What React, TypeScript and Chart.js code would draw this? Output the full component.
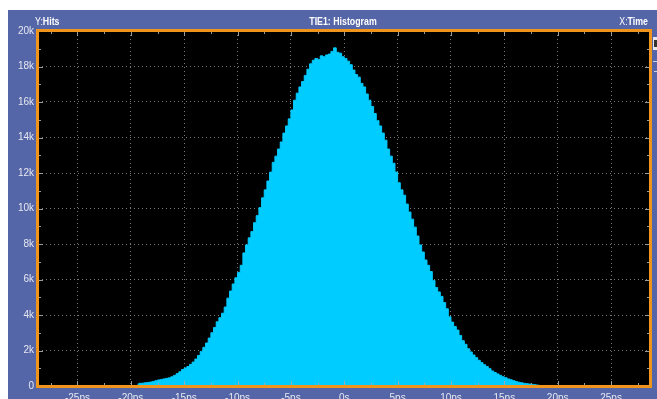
import React, { useEffect, useRef } from "react";
import { Chart, registerables } from "chart.js";

Chart.register(...registerables);

// Histogram bins (ps): first bin starts at binStart, each binWidth wide
const binStart = -19.5;
const binWidth = 0.25;
const hits = [
  100, 150, 160, 180, 200, 220, 260, 300, 340, 370,
  400, 430, 460, 520, 600, 700, 800, 930, 1020, 1100,
  1220, 1350, 1520, 1720, 1950, 2180, 2420, 2700, 3000, 3300,
  3620, 3850, 4100, 4450, 4950, 5350, 5750, 6100, 6400, 6800,
  7500, 7950, 8350, 8700, 9200, 9600, 10050, 10600, 11050, 11550,
  12050, 12600, 12950, 13350, 13750, 14250, 14650, 15050, 15550, 16100,
  16500, 16850, 17150, 17500, 17850, 18150, 18350, 18450, 18400, 18600,
  18550, 18650, 18700, 18850, 19050, 18800, 18750, 18550, 18450, 18300,
  18100, 17800, 17550, 17400, 17050, 16850, 16450, 16100, 15750, 15350,
  14950, 14650, 14250, 13850, 13350, 12950, 12550, 12050, 11450, 11050,
  10750, 10250, 9800, 9400, 8950, 8450, 7950, 7550, 7100, 6800,
  6450, 5950, 5550, 5300, 5050, 4700, 4350, 3900, 3600, 3350,
  3150, 2850, 2550, 2350, 2100, 1920, 1750, 1600, 1450, 1320,
  1200, 1100, 980, 850, 760, 680, 600, 520, 470, 400,
  350, 300, 250, 210, 180, 150, 130, 110, 90, 70,
  50, 30,
];

const xMin = -28.7;
const xMax = 28.65;
const xStep = 5;
const yMax = 20000;
const yStep = 2000;
const titleLeft = "Y:Hits";
const titleCenter = "TIE1: Histogram";
const titleRight = "X:Time";

const FONT = '"Liberation Sans", Arial, sans-serif';
const BLUE = "#5566A8";
const ORANGE = "#F0951C";
const CYAN = "#00CCFF";
const NARROW = 0.8;

function narrowText(ctx: any, text: string, x: number, y: number, align: string) {
  const w = ctx.measureText(text).width * NARROW;
  let left = x;
  if (align === "center") left = x - w / 2;
  else if (align === "right") left = x - w;
  ctx.save();
  ctx.translate(left, y);
  ctx.scale(NARROW, 1);
  ctx.textAlign = "left";
  ctx.fillText(text, 0, 0);
  ctx.restore();
  return w;
}

const decorPlugin = {
  id: "decor",
  beforeDraw(chart: any) {
    const { ctx, chartArea: a, width, height } = chart;
    ctx.save();
    ctx.fillStyle = "#FFFFFF";
    ctx.fillRect(0, 0, width, height);
    ctx.fillStyle = BLUE;
    ctx.fillRect(8, 10, width - 8, height - 10);
    ctx.fillStyle = "#000000";
    ctx.fillRect(a.left, a.top, a.right - a.left, a.bottom - a.top);
    ctx.restore();
  },
  afterDraw(chart: any) {
    const { ctx, chartArea: a, scales } = chart;
    const xs = scales.x;
    const ys = scales.y;
    ctx.save();
    // minor tick marks on edges
    ctx.strokeStyle = "rgba(170,170,170,0.9)";
    ctx.lineWidth = 1;
    ctx.beginPath();
    for (let v = -27.5; v <= 27.5; v += 2.5) {
      const px = Math.round(xs.getPixelForValue(v)) + 0.5;
      const major = Math.abs(v % 5) < 1e-6;
      const len = major ? 5 : 3;
      ctx.moveTo(px, a.top);
      ctx.lineTo(px, a.top + len);
      ctx.moveTo(px, a.bottom);
      ctx.lineTo(px, a.bottom - len);
    }
    for (let v = 1000; v < yMax; v += 1000) {
      const py = Math.round(ys.getPixelForValue(v)) + 0.5;
      const major = v % 2000 === 0;
      const len = major ? 5 : 3;
      ctx.moveTo(a.left, py);
      ctx.lineTo(a.left + len, py);
      ctx.moveTo(a.right, py);
      ctx.lineTo(a.right - len, py);
    }
    ctx.stroke();

    // orange frame
    ctx.strokeStyle = ORANGE;
    ctx.lineWidth = 3;
    ctx.strokeRect(a.left - 0.5, a.top - 0.5, a.right - a.left + 1, a.bottom - a.top + 1);

    // titles
    ctx.fillStyle = "#FFFFFF";
    ctx.textBaseline = "middle";
    ctx.font = `11px ${FONT}`;
    const yPart = titleLeft.split(":");
    const w0 = narrowText(ctx, yPart[0] + ":", 35, 22, "left");
    ctx.font = `bold 11px ${FONT}`;
    narrowText(ctx, yPart[1], 35 + w0, 22, "left");

    narrowText(ctx, titleCenter, 343, 22, "center");

    const xPart = titleRight.split(":");
    const w1 = narrowText(ctx, xPart[1], 648, 22, "right");
    ctx.font = `11px ${FONT}`;
    narrowText(ctx, xPart[0] + ":", 648 - w1, 22, "right");

    // small side widget
    ctx.fillStyle = "#E8E8EC";
    ctx.fillRect(653, 37, 4, 13);
    ctx.fillStyle = "#333";
    ctx.fillRect(654, 40, 3, 7);
    ctx.fillStyle = "#D0D0D8";
    ctx.fillRect(653, 61, 4, 1);
    ctx.fillRect(654, 71, 3, 1);
    ctx.restore();
  },
};

export default function App() {
  const ref = useRef<HTMLCanvasElement | null>(null);

  useEffect(() => {
    document.body.style.margin = "0";
    const canvas = ref.current;
    if (!canvas) return;
    const data = hits.map((h, i) => ({ x: binStart + binWidth * (i + 0.5), y: h }));
    const chart = new Chart(canvas, {
      type: "line",
      data: {
        datasets: [
          {
            data,
            stepped: "middle",
            fill: "origin",
            backgroundColor: CYAN,
            borderColor: CYAN,
            borderWidth: 1,
            pointRadius: 0,
          },
        ],
      },
      options: {
        animation: false,
        responsive: false,
        devicePixelRatio: 1,
        layout: { padding: { left: 8, top: 31, right: 7, bottom: 0 } },
        plugins: { legend: { display: false }, tooltip: { enabled: false } },
        scales: {
          x: {
            type: "linear",
            min: xMin,
            max: xMax,
            z: 1,
            afterFit: (s: any) => {
              s.height = 13;
            },
            ticks: {
              stepSize: xStep,
              includeBounds: false,
              autoSkip: false,
              maxRotation: 0,
              padding: 6,
              color: "#E6E8F0",
              font: { family: FONT, size: 10 },
              callback: (v: any) => (Number(v) === 0 ? "0s" : `${v}ps`),
            },
            grid: { color: "rgba(160,160,160,0.75)", drawTicks: false, lineWidth: 1 },
            border: { display: false, dash: [1, 3] },
          },
          y: {
            type: "linear",
            min: 0,
            max: yMax,
            z: 1,
            afterFit: (s: any) => {
              s.width = 30;
            },
            ticks: {
              stepSize: yStep,
              padding: 4,
              color: "#E6E8F0",
              font: { family: FONT, size: 10 },
              callback: (v: any) => (Number(v) === 0 ? "0" : `${Number(v) / 1000}k`),
            },
            grid: { color: "rgba(160,160,160,0.75)", drawTicks: false, lineWidth: 1 },
            border: { display: false, dash: [1, 3] },
          },
        },
      },
      plugins: [decorPlugin],
    });
    return () => chart.destroy();
  }, []);

  return (
    <div style={{ width: 657, height: 399 }}>
      <canvas ref={ref} width={657} height={399} style={{ display: "block" }} />
    </div>
  );
}
